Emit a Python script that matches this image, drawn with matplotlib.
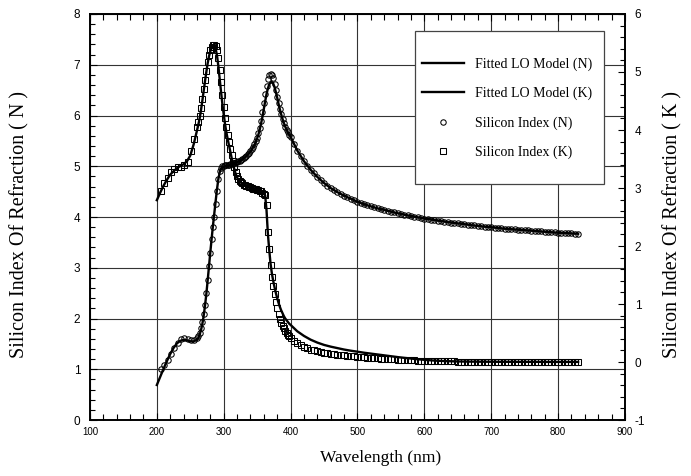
import matplotlib
matplotlib.use("Agg")
import matplotlib.pyplot as plt
from matplotlib.lines import Line2D
from matplotlib.patches import Rectangle
from matplotlib.ticker import MultipleLocator

plt.rcParams["axes.unicode_minus"] = False

# ---------------- data ----------------
# measured points, wavelength grid in three sampling segments
wl_data_a = [206, 211, 216, 221, 226, 231, 236, 241, 246, 251, 256]
wl_data_b = list(range(260, 401, 2))
wl_data_c = list(range(405, 831, 5))

n_data_a = [1.00, 1.08, 1.18, 1.30, 1.41, 1.51, 1.59, 1.61, 1.59, 1.57, 1.58]
n_data_b = [1.62, 1.66, 1.72, 1.81, 1.93, 2.08, 2.27, 2.50, 2.76, 3.03,
            3.30, 3.57, 3.80, 4.00, 4.25, 4.52, 4.75, 4.90, 4.97, 5.00,
            5.01, 5.02, 5.02, 5.03, 5.03, 5.04, 5.05, 5.06, 5.07, 5.08,
            5.09, 5.10, 5.11, 5.13, 5.15, 5.17, 5.19, 5.21, 5.24, 5.27,
            5.30, 5.34, 5.38, 5.43, 5.49, 5.56, 5.65, 5.76, 5.90, 6.06,
            6.24, 6.42, 6.58, 6.71, 6.79, 6.82, 6.80, 6.73, 6.62, 6.50,
            6.37, 6.24, 6.12, 6.02, 5.93, 5.85, 5.78, 5.72, 5.67, 5.62,
            5.58]
n_data_c = [5.44, 5.31, 5.20, 5.10, 5.01, 4.93, 4.86, 4.79, 4.73, 4.67,
            4.62, 4.57, 4.53, 4.49, 4.45, 4.42, 4.39, 4.36, 4.33, 4.30,
            4.28, 4.25, 4.23, 4.21, 4.19, 4.17, 4.155, 4.14, 4.12, 4.105,
            4.09, 4.075, 4.06, 4.045, 4.03, 4.02, 4.005, 3.995, 3.98, 3.97,
            3.96, 3.95, 3.94, 3.93, 3.92, 3.91, 3.90, 3.89, 3.88, 3.875,
            3.865, 3.86, 3.85, 3.84, 3.835, 3.825, 3.82, 3.81, 3.805, 3.80,
            3.79, 3.785, 3.78, 3.77, 3.765, 3.76, 3.755, 3.75, 3.745, 3.74,
            3.735, 3.73, 3.725, 3.72, 3.715, 3.71, 3.705, 3.70, 3.695, 3.69,
            3.687, 3.684, 3.68, 3.677, 3.674, 3.67]

k_data_a = [2.94, 3.08, 3.17, 3.27, 3.33, 3.36, 3.37, 3.39, 3.45, 3.64, 3.85]
k_data_b = [4.05, 4.14, 4.24, 4.38, 4.53, 4.70, 4.86, 5.02, 5.17, 5.29,
            5.38, 5.43, 5.46, 5.47, 5.45, 5.38, 5.24, 5.04, 4.82, 4.60,
            4.40, 4.21, 4.05, 3.91, 3.79, 3.68, 3.57, 3.46, 3.36, 3.27,
            3.20, 3.15, 3.12, 3.10, 3.08, 3.06, 3.05, 3.04, 3.03, 3.02,
            3.01, 3.00, 2.99, 2.99, 2.98, 2.97, 2.96, 2.95, 2.94, 2.92,
            2.90, 2.88, 2.70, 2.25, 1.95, 1.68, 1.47, 1.31, 1.17, 1.03,
            0.93, 0.83, 0.74, 0.68, 0.62, 0.58, 0.54, 0.50, 0.47, 0.44,
            0.41]
k_data_c = [0.365, 0.325, 0.29, 0.26, 0.235, 0.215, 0.20, 0.185, 0.172, 0.162,
            0.152, 0.143, 0.135, 0.128, 0.121, 0.115, 0.108, 0.102, 0.096, 0.090,
            0.085, 0.080, 0.075, 0.070, 0.066, 0.062, 0.058, 0.054, 0.050, 0.047,
            0.044, 0.041, 0.038, 0.035, 0.032, 0.030, 0.027, 0.025, 0.023, 0.021,
            0.019, 0.017, 0.016, 0.014, 0.013, 0.012, 0.011, 0.010, 0.009, 0.008,
            0.007, 0.006, 0.006, 0.005, 0.005, 0.004, 0.004, 0.004, 0.003, 0.003,
            0.003, 0.003, 0.003, 0.003, 0.003, 0.002, 0.002, 0.002, 0.002, 0.002,
            0.002, 0.002, 0.002, 0.002, 0.002, 0.002, 0.002, 0.002, 0.002, 0.002,
            0.002, 0.002, 0.002, 0.002, 0.002, 0.002]

# fitted Lorentz-oscillator model curves
wl_fit_a = [200, 205, 210, 215, 220, 225, 230, 235, 240, 245, 250, 255]
wl_fit_b = list(range(260, 401, 2))
wl_fit_c = list(range(410, 831, 10))

n_fit_a = [0.69, 0.85, 1.01, 1.16, 1.30, 1.42, 1.51, 1.56, 1.58, 1.57, 1.55, 1.55]
n_fit_b = [1.58, 1.62, 1.68, 1.77, 1.89, 2.05, 2.25, 2.48, 2.75, 3.03,
           3.31, 3.58, 3.84, 4.08, 4.32, 4.55, 4.75, 4.88, 4.95, 4.98,
           4.99, 5.00, 5.01, 5.01, 5.02, 5.03, 5.04, 5.05, 5.06, 5.07,
           5.08, 5.09, 5.10, 5.12, 5.14, 5.16, 5.18, 5.20, 5.23, 5.26,
           5.29, 5.33, 5.37, 5.42, 5.48, 5.55, 5.63, 5.73, 5.85, 5.98,
           6.13, 6.28, 6.42, 6.53, 6.61, 6.65, 6.66, 6.63, 6.56, 6.46,
           6.35, 6.23, 6.12, 6.02, 5.93, 5.85, 5.78, 5.72, 5.67, 5.62,
           5.58]
n_fit_c = [5.31, 5.10, 4.93, 4.79, 4.67, 4.57, 4.49, 4.42, 4.36, 4.30,
           4.25, 4.21, 4.17, 4.14, 4.105, 4.075, 4.045, 4.02, 3.995, 3.97,
           3.95, 3.93, 3.91, 3.89, 3.875, 3.86, 3.84, 3.825, 3.81, 3.80,
           3.785, 3.77, 3.76, 3.75, 3.74, 3.73, 3.72, 3.71, 3.70, 3.69,
           3.684, 3.677, 3.67]

k_fit_a = [2.79, 2.92, 3.04, 3.14, 3.23, 3.29, 3.34, 3.38, 3.41, 3.46, 3.56, 3.75]
k_fit_b = [3.99, 4.09, 4.20, 4.34, 4.50, 4.67, 4.84, 5.00, 5.15, 5.27,
           5.36, 5.42, 5.45, 5.45, 5.40, 5.28, 5.10, 4.88, 4.66, 4.45,
           4.27, 4.10, 3.96, 3.84, 3.73, 3.62, 3.51, 3.41, 3.32, 3.24,
           3.18, 3.14, 3.11, 3.09, 3.07, 3.06, 3.05, 3.04, 3.03, 3.02,
           3.01, 3.00, 2.99, 2.99, 2.98, 2.97, 2.96, 2.95, 2.94, 2.92,
           2.90, 2.87, 2.62, 2.22, 1.94, 1.70, 1.53, 1.40, 1.29, 1.19,
           1.10, 1.02, 0.95, 0.89, 0.84, 0.79, 0.75, 0.72, 0.69, 0.66,
           0.64]
k_fit_c = [0.53, 0.45, 0.385, 0.335, 0.295, 0.265, 0.24, 0.215, 0.195, 0.178,
           0.16, 0.145, 0.13, 0.115, 0.10, 0.085, 0.072, 0.06, 0.048, 0.038,
           0.029, 0.022, 0.017, 0.013, 0.010, 0.008, 0.007, 0.006, 0.005, 0.005,
           0.004, 0.004, 0.004, 0.003, 0.003, 0.003, 0.003, 0.002, 0.002, 0.002,
           0.002, 0.002, 0.002]

legend_labels = ["Fitted LO Model (N)", "Fitted LO Model (K)",
                 "Silicon Index (N)", "Silicon Index (K)"]

wl_data = wl_data_a + wl_data_b + wl_data_c
n_data = n_data_a + n_data_b + n_data_c
k_data = k_data_a + k_data_b + k_data_c
wl_fit = wl_fit_a + wl_fit_b + wl_fit_c
n_fit = n_fit_a + n_fit_b + n_fit_c
k_fit = k_fit_a + k_fit_b + k_fit_c

# ---------------- figure ----------------
SANS = "Liberation Sans"
SERIF = "Liberation Serif"

fig = plt.figure(figsize=(6.91, 4.76), dpi=100)
ax = fig.add_axes([0.1302, 0.1176, 0.7742, 0.8530])
ax2 = ax.twinx()

mk = dict(linestyle="none", ms=3.9, mfc="none", mec="black", mew=0.75)
ax.plot(wl_data, n_data, marker="o", zorder=3, **mk)
ax2.plot(wl_data, k_data, marker="s", zorder=3, **mk)
ax.plot(wl_fit, n_fit, color="black", lw=1.7, zorder=4)
ax2.plot(wl_fit, k_fit, color="black", lw=1.7, zorder=4)

ax.set_xlim(100, 900)
ax.set_ylim(0, 8)
ax2.set_ylim(-1, 6)

ax.xaxis.set_major_locator(MultipleLocator(100))
ax.xaxis.set_minor_locator(MultipleLocator(20))
ax.yaxis.set_major_locator(MultipleLocator(1))
ax.yaxis.set_minor_locator(MultipleLocator(0.2))
ax2.yaxis.set_major_locator(MultipleLocator(1))
ax2.yaxis.set_minor_locator(MultipleLocator(0.2))

ax.grid(True, which="major", color="#333333", lw=0.8)
ax.set_axisbelow(True)

ax.tick_params(axis="x", which="both", direction="in", top=True, bottom=True,
               labelsize=7, pad=5, width=0.8)
ax.tick_params(axis="x", which="major", length=5)
ax.tick_params(axis="x", which="minor", length=4)
ax.tick_params(axis="y", which="both", direction="in", left=True, right=False,
               labelsize=8.5, pad=7, width=0.8)
ax.tick_params(axis="y", which="major", length=5)
ax.tick_params(axis="y", which="minor", length=3.5)
ax2.tick_params(axis="y", which="both", direction="in", right=True, left=False,
                labelsize=8.5, pad=7, width=0.8)
ax2.tick_params(axis="y", which="major", length=5)
ax2.tick_params(axis="y", which="minor", length=3.5)

for lab in ax.get_xticklabels() + ax.get_yticklabels() + ax2.get_yticklabels():
    lab.set_fontfamily(SANS)

for a in (ax, ax2):
    for s in a.spines.values():
        s.set_linewidth(1.2)

fig.text(381 / 691, 1 - 458 / 476, "Wavelength (nm)", fontfamily=SERIF,
         fontsize=12.5, ha="center", va="center")
fig.text(20 / 691, 1 - 225 / 476, "Silicon Index Of Refraction ( N )",
         fontfamily=SERIF, fontsize=14.5, rotation=90, ha="center", va="center")
fig.text(673 / 691, 1 - 225 / 476, "Silicon Index Of Refraction ( K )",
         fontfamily=SERIF, fontsize=14.5, rotation=90, ha="center", va="center")

# legend with its own frame
x0, x1 = (415 - 90) / 535, (604 - 90) / 535
y0, y1 = (420 - 184) / 406, (420 - 31) / 406
ax2.add_patch(Rectangle((x0, y0), x1 - x0, y1 - y0, transform=ax2.transAxes,
                        facecolor="white", edgecolor="#444444", lw=0.9, zorder=5))
handles = [Line2D([], [], color="black", lw=1.7),
           Line2D([], [], color="black", lw=1.7),
           Line2D([], [], marker="o", **mk),
           Line2D([], [], marker="s", **mk)]
leg = ax2.legend(handles, legend_labels, loc="upper left",
                 bbox_to_anchor=(x0, y1 - 0.048), bbox_transform=ax2.transAxes,
                 frameon=False, prop={"family": SERIF, "size": 10},
                 handlelength=3.0, handletextpad=0.8, labelspacing=1.15,
                 borderpad=0.5, borderaxespad=0.0)
leg.set_zorder(6)

fig.savefig("out.png", dpi=100)
